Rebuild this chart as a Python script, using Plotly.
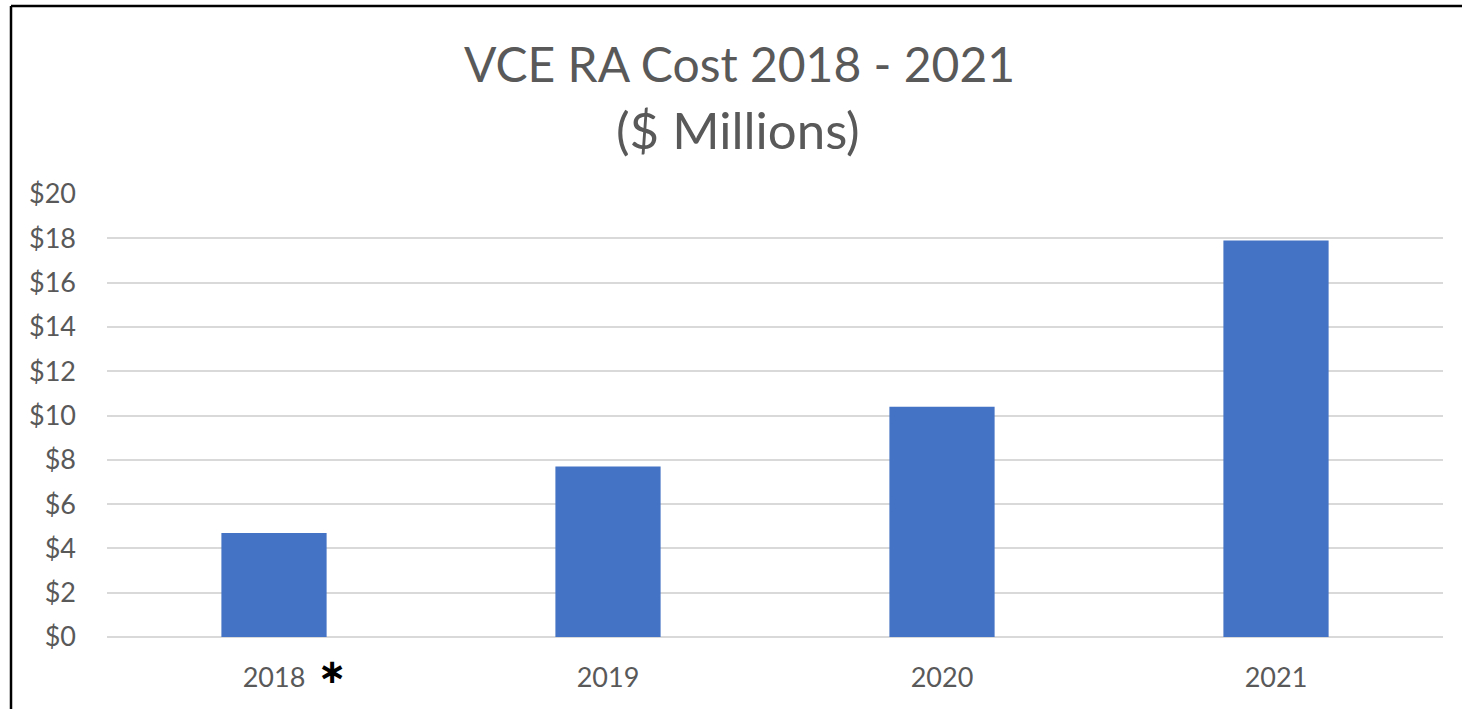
import plotly.graph_objects as go

years = ["2018", "2019", "2020", "2021"]
cost_millions = [4.7, 7.7, 10.4, 17.9]
y_ticks = [0, 2, 4, 6, 8, 10, 12, 14, 16, 18, 20]
y_tick_labels = ["$" + str(v) for v in y_ticks]
title_lines = ["VCE RA Cost 2018 - 2021", "($ Millions)"]

W, H = 1462, 709
L, R, T, B = 107, 19, 194, 72
pw, ph = W - L - R, H - T - B

def px_to_paper_x(px):
    return (px - L) / pw

def px_to_paper_y(py):
    return (H - B - py) / ph

FONT = "Lato"
GRAY = "#595959"

fig = go.Figure(go.Bar(
    x=years, y=cost_millions, marker_color="#4472C4",
    marker_line_width=0, width=0.315,
))

fig.update_layout(
    width=W, height=H,
    margin=dict(l=L, r=R, t=T, b=B, pad=0),
    paper_bgcolor="white", plot_bgcolor="white",
    font=dict(family=FONT, color=GRAY),
    showlegend=False,
    xaxis=dict(
        tickfont=dict(family=FONT, size=27, color=GRAY),
        showgrid=False, showline=False, ticks="", ticklabelstandoff=22,
    ),
    yaxis=dict(
        range=[0, 20], tickvals=y_ticks, ticktext=y_tick_labels,
        tickfont=dict(family=FONT, size=27, color=GRAY),
        showgrid=True, gridcolor="#D9D9D9", gridwidth=1.5,
        zeroline=True, zerolinecolor="#D9D9D9", zerolinewidth=1.5,
        showline=False, ticks="", ticklabelstandoff=30,
    ),
    shapes=[
        dict(type="line", xref="paper", yref="paper",
             x0=px_to_paper_x(11), x1=px_to_paper_x(W + 5),
             y0=px_to_paper_y(6), y1=px_to_paper_y(6),
             line=dict(color="black", width=2.5)),
        dict(type="line", xref="paper", yref="paper",
             x0=px_to_paper_x(11), x1=px_to_paper_x(11),
             y0=px_to_paper_y(6), y1=px_to_paper_y(H + 5),
             line=dict(color="black", width=2.5)),
    ],
    annotations=[
        dict(text=title_lines[0], xref="paper", yref="paper",
             x=px_to_paper_x(739), y=px_to_paper_y(64),
             xanchor="center", yanchor="middle", showarrow=False,
             font=dict(family=FONT, size=48, color=GRAY)),
        dict(text=title_lines[1], xref="paper", yref="paper",
             x=px_to_paper_x(738), y=px_to_paper_y(129),
             xanchor="center", yanchor="middle", showarrow=False,
             font=dict(family=FONT, size=51, color=GRAY)),
        dict(text="<b>\u2217</b>", xref="paper", yref="paper",
             x=px_to_paper_x(332), y=px_to_paper_y(671),
             xanchor="center", yanchor="middle", showarrow=False,
             font=dict(family="DejaVu Sans", size=34, color="black")),
    ],
)

fig.write_html("out.html")
